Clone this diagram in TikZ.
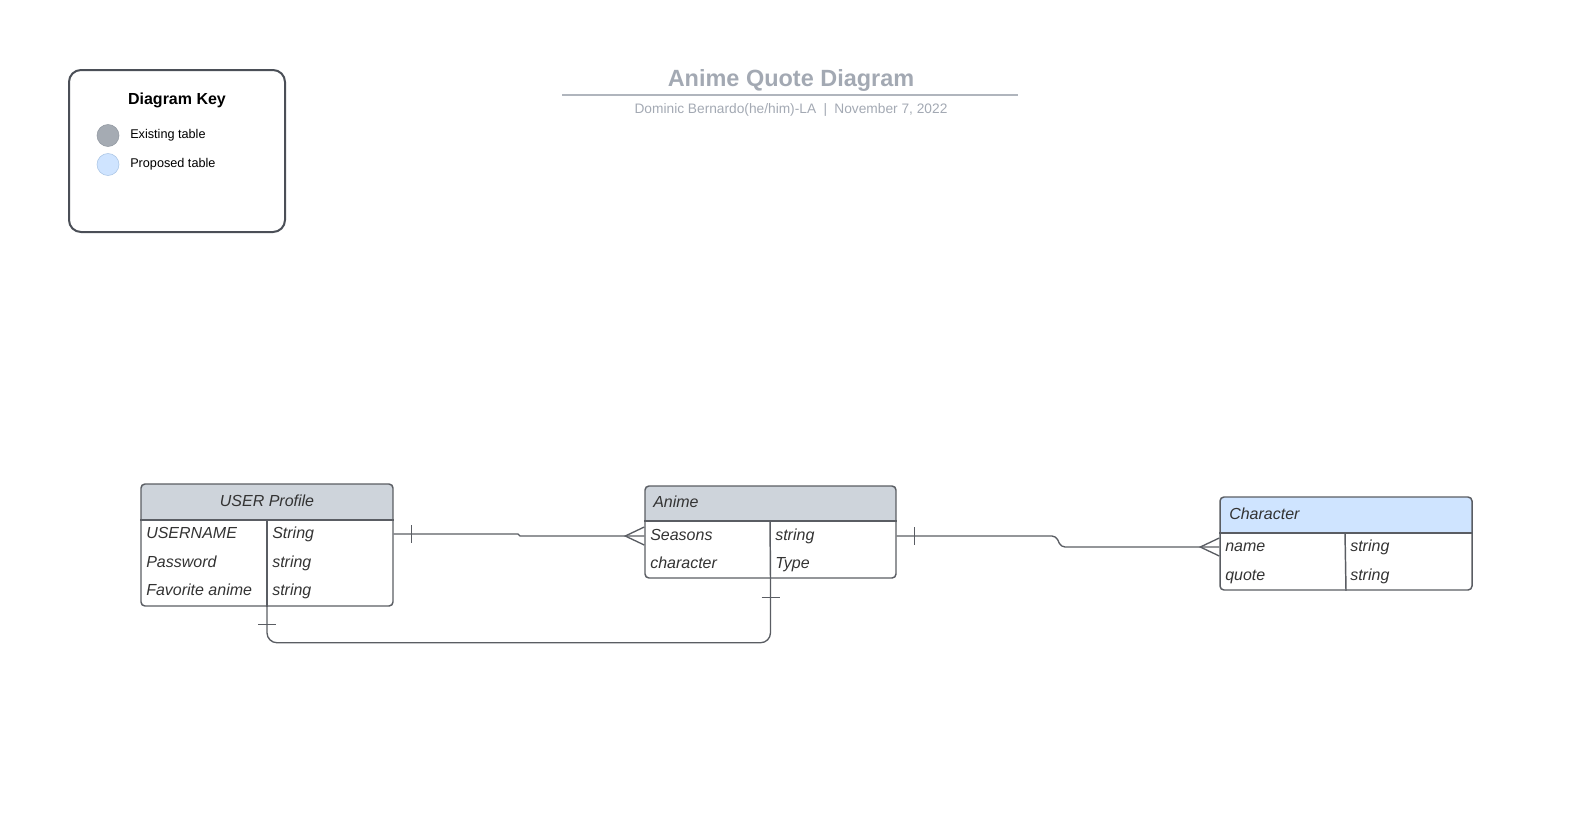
\documentclass[tikz,border=0pt]{standalone}
\usepackage{fontspec}
\setmainfont{Liberation Sans}
\usetikzlibrary{fit}

\definecolor{hdrgray}{HTML}{CED4DB}
\definecolor{hdrblue}{HTML}{CFE4FF}
\definecolor{edgegray}{HTML}{5A5D63}
\definecolor{keyedge}{HTML}{4B4F57}
\definecolor{keygray}{HTML}{A5ABB3}
\definecolor{keygrayedge}{HTML}{9097A0}
\definecolor{blueedge}{HTML}{A9C4E4}
\definecolor{titlegray}{HTML}{A3A9B3}
\definecolor{rulegray}{HTML}{B0B5BD}
\definecolor{txt}{HTML}{333333}

\tikzset{
  tbl/.style={draw=edgegray, line width=1.1pt, rounded corners=3pt, inner sep=0pt},
  fld/.style={anchor=west, inner sep=0pt, text=txt, text height=8.6pt, text depth=0pt,
    font=\itshape\fontsize{12}{14}\selectfont},
  keytxt/.style={anchor=west, inner sep=0pt, font=\fontsize{9.5}{11}\selectfont},
  conn/.style={draw=edgegray, line width=1pt},
}

\begin{document}
\begin{tikzpicture}[x=0.75pt, y=-0.75pt]
\useasboundingbox (0,0) rectangle (1569,833);

% key
\node (key) [draw=keyedge, line width=1.5pt, rounded corners=9pt, inner sep=0pt, fit={(69,70) (285,232)}] {};
\node (keytitle) at (177,100.5) [font=\bfseries\fontsize{12}{14}\selectfont] {Diagram Key};
\node (oldcirc) at (108,135.5) [circle, fill=keygray, draw=keygrayedge, inner sep=0pt, minimum size=16.5pt] {};
\node (newcirc) at (108,164.5) [circle, fill=hdrblue, draw=blueedge, inner sep=0pt, minimum size=16.5pt] {};
\node (oldtxt) at (130,135.5) [keytxt] {Existing table};
\node (newtxt) at (130,164.5) [keytxt] {Proposed table};

% title
\node (title) at (791,80.5) [text=titlegray, font=\bfseries\fontsize{17.6}{20}\selectfont] {Anime Quote Diagram};
\draw[rulegray, line width=1.5pt] (562,95) -- (1018,95);
\node (byline) at (791,110) [text=titlegray, font=\fontsize{10.3}{12}\selectfont]
  {Dominic Bernardo(he/him)-LA\hspace{5.5pt}|\hspace{5.5pt}November 7, 2022};

% USER Profile
\begin{scope}
  \clip[rounded corners=3pt] (141,484) rectangle (393,606);
  \fill[hdrgray] (141,484) rectangle (393,520);
\end{scope}
\node (user) [tbl, fit={(141,484) (393,606)}] {};
\draw[tbl] (user.west |- 0,520) -- (user.east |- 0,520);
\draw[tbl] (267,520) -- (user.south);
\node (userhd) at (267,501) [fld, anchor=center] {USER Profile};
\node (ur1) at (146,533) [fld] {USERNAME};
\node (ut1) at (272,533) [fld] {String};
\node (ur2) at (146,562) [fld] {Password};
\node (ut2) at (272,562) [fld] {string};
\node (ur3) at (146,590) [fld] {Favorite anime};
\node (ut3) at (272,590) [fld] {string};

% Anime
\begin{scope}
  \clip[rounded corners=3pt] (645,486) rectangle (896,578);
  \fill[hdrgray] (645,486) rectangle (896,521);
\end{scope}
\node (anime) [tbl, fit={(645,486) (896,578)}] {};
\draw[tbl] (anime.west |- 0,521) -- (anime.east |- 0,521);
\draw[tbl] (770,521) -- (anime.south);
\node (animehd) at (653,502) [fld] {Anime};
\node (ar1) at (650,535) [fld] {Seasons};
\node (at1) at (775,535) [fld] {string};
\node (ar2) at (650,563) [fld] {character};
\node (at2) at (775,563) [fld] {Type};

% Character
\begin{scope}
  \clip[rounded corners=3pt] (1220,497) rectangle (1472,590);
  \fill[hdrblue] (1220,497) rectangle (1472,533);
\end{scope}
\node (char) [tbl, fit={(1220,497) (1472,590)}] {};
\draw[tbl] (char.west |- 0,533) -- (char.east |- 0,533);
\draw[tbl] (1345,533) -- (char.south);
\node (charhd) at (1229,514) [fld] {Character};
\node (cr1) at (1225,546) [fld] {name};
\node (ct1) at (1350,546) [fld] {string};
\node (cr2) at (1225,575) [fld] {quote};
\node (ct2) at (1350,575) [fld] {string};

% connectors
\draw[conn] (user.east |- 0,534) -- (518,534) -- (520,536) -- (anime.west |- 0,536);
\draw[conn] (user.east |- 0,534) ++(18,-9) -- ++(0,18);
\draw[conn] (anime.west |- 0,536) ++(0,-9) -- ++(-19,9) -- ++(19,9);

\draw[conn, rounded corners=3pt] (anime.east |- 0,536) -- (1056,536) -- (1061,547) -- (char.west |- 0,547);
\draw[conn] (anime.east |- 0,536) ++(18,-9) -- ++(0,18);
\draw[conn] (char.west |- 0,547) ++(0,-9) -- ++(-19,9) -- ++(19,9);

\draw[conn, rounded corners=7.5pt] (user.south) -- ++(0,36) -| (anime.south);
\draw[conn] (user.south) ++(-9,18) -- ++(18,0);
\draw[conn] (anime.south) ++(-9,19) -- ++(18,0);
\end{tikzpicture}
\end{document}
